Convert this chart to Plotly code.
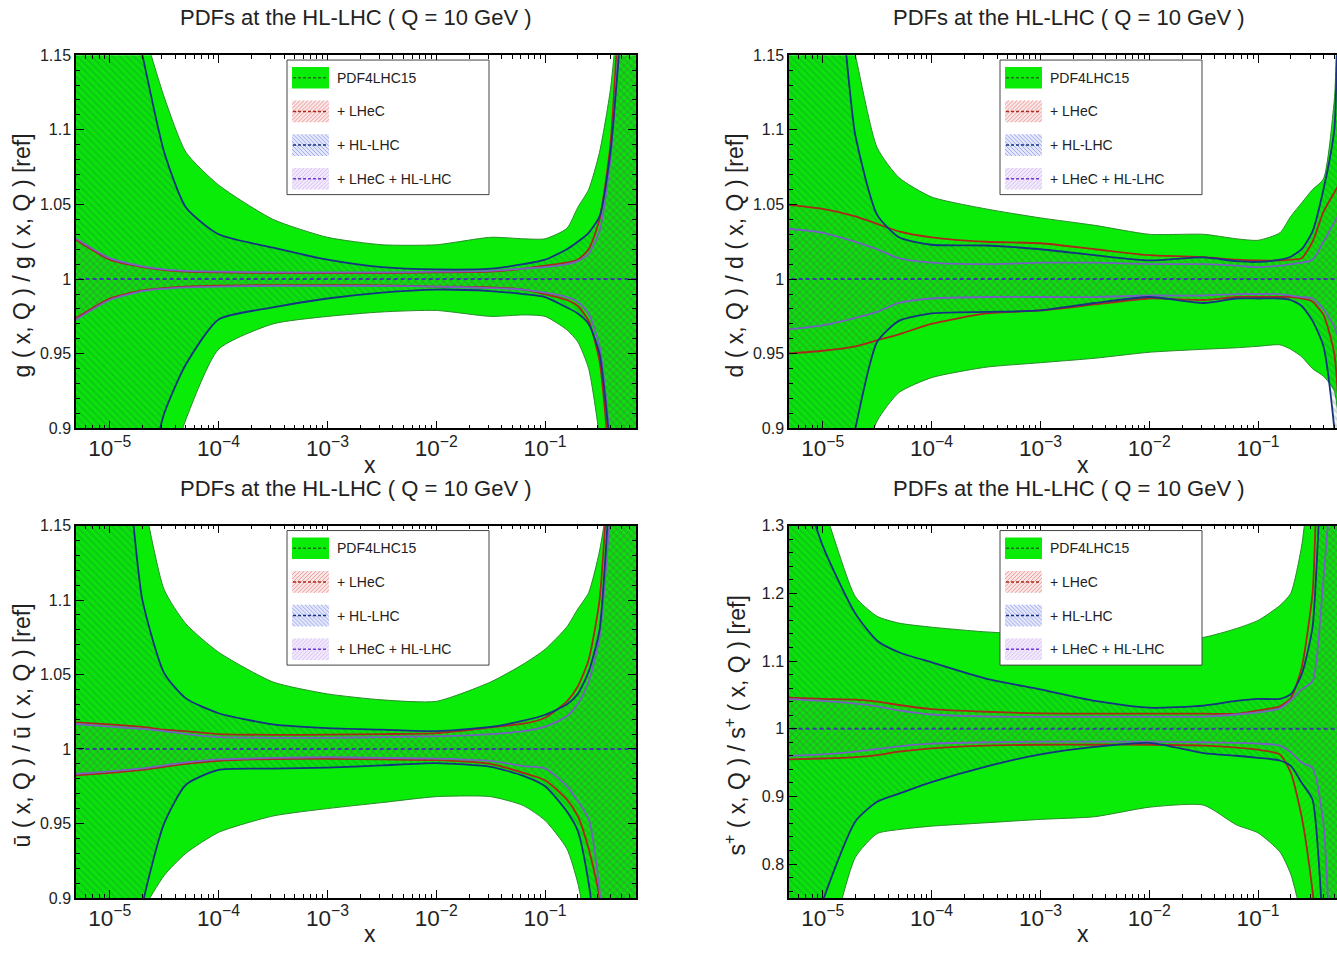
import plotly.graph_objects as go

W, H = 1337, 957
def fx(p):
    return p / W
def fy(p):
    return 1 - p / H

# ---------------- data (log10 x grid, ratio to reference) ----------------
LOG_X = [-5.35, -5.0, -4.7, -4.5, -4.3, -4.0, -3.5, -3.0, -2.5, -2.0, -1.5,
         -1.2, -1.0, -0.8, -0.7, -0.6, -0.5, -0.4, -0.3, -0.2, -0.1]

# gluon
g_pdf_up = [1.25, 1.25, 1.17, 1.122, 1.085, 1.063, 1.040, 1.028, 1.023, 1.023, 1.028, 1.027, 1.027, 1.034, 1.048, 1.060, 1.085, 1.127, 1.20, 1.25, 1.25]
g_pdf_dn = [0.75, 0.75, 0.80, 0.86, 0.906, 0.953, 0.970, 0.975, 0.978, 0.979, 0.975, 0.976, 0.975, 0.966, 0.958, 0.940, 0.894, 0.82, 0.75, 0.75, 0.75]
g_hl_up = [1.25, 1.25, 1.15, 1.085, 1.048, 1.030, 1.021, 1.013, 1.008, 1.0065, 1.007, 1.010, 1.013, 1.020, 1.025, 1.031, 1.042, 1.085, 1.17, 1.25, 1.25]
g_hl_dn = [0.75, 0.78, 0.85, 0.91, 0.943, 0.973, 0.981, 0.987, 0.991, 0.993, 0.992, 0.990, 0.988, 0.981, 0.977, 0.970, 0.950, 0.885, 0.80, 0.75, 0.75]
g_lh_up = [1.028, 1.013, 1.008, 1.006, 1.005, 1.0045, 1.004, 1.004, 1.004, 1.0045, 1.005, 1.007, 1.009, 1.011, 1.013, 1.020, 1.040, 1.09, 1.20, 1.25, 1.25]
g_lh_dn = [0.972, 0.987, 0.9925, 0.994, 0.995, 0.9956, 0.996, 0.996, 0.9958, 0.995, 0.9945, 0.993, 0.990, 0.986, 0.982, 0.972, 0.945, 0.87, 0.78, 0.75, 0.75]
g_co_up = [1.029, 1.014, 1.0085, 1.0065, 1.0055, 1.005, 1.0045, 1.0045, 1.0045, 1.005, 1.0055, 1.007, 1.008, 1.010, 1.012, 1.017, 1.032, 1.08, 1.18, 1.25, 1.25]
g_co_dn = [0.971, 0.986, 0.992, 0.9935, 0.9945, 0.995, 0.9955, 0.9955, 0.9955, 0.995, 0.994, 0.993, 0.991, 0.988, 0.985, 0.977, 0.955, 0.89, 0.80, 0.75, 0.75]

# d quark
d_pdf_up = [1.25, 1.25, 1.15, 1.088, 1.068, 1.055, 1.047, 1.041, 1.036, 1.030, 1.030, 1.027, 1.026, 1.031, 1.042, 1.051, 1.060, 1.067, 1.12, 1.25, 1.25]
d_pdf_dn = [0.75, 0.78, 0.86, 0.905, 0.924, 0.934, 0.941, 0.944, 0.947, 0.951, 0.953, 0.954, 0.955, 0.956, 0.953, 0.948, 0.940, 0.935, 0.925, 0.85, 0.80]
d_hl_up = [1.25, 1.25, 1.096, 1.043, 1.028, 1.023, 1.0225, 1.020, 1.016, 1.0125, 1.0145, 1.012, 1.0115, 1.013, 1.015, 1.020, 1.032, 1.060, 1.10, 1.25, 1.25]
d_hl_dn = [0.75, 0.78, 0.90, 0.958, 0.972, 0.977, 0.978, 0.979, 0.984, 0.988, 0.984, 0.987, 0.987, 0.987, 0.986, 0.982, 0.972, 0.955, 0.90, 0.80, 0.75]
d_lh_up = [1.050, 1.047, 1.042, 1.037, 1.032, 1.028, 1.025, 1.024, 1.020, 1.016, 1.0147, 1.013, 1.0125, 1.0125, 1.013, 1.014, 1.025, 1.045, 1.058, 1.07, 1.08]
d_lh_dn = [0.950, 0.952, 0.955, 0.959, 0.963, 0.970, 0.977, 0.979, 0.983, 0.987, 0.986, 0.988, 0.988, 0.988, 0.988, 0.987, 0.985, 0.976, 0.95, 0.85, 0.80]
d_co_up = [1.034, 1.031, 1.025, 1.020, 1.014, 1.011, 1.010, 1.011, 1.011, 1.010, 1.010, 1.009, 1.008, 1.009, 1.010, 1.011, 1.013, 1.025, 1.038, 1.05, 1.06]
d_co_dn = [0.966, 0.969, 0.974, 0.978, 0.984, 0.987, 0.988, 0.988, 0.988, 0.989, 0.989, 0.990, 0.990, 0.990, 0.989, 0.988, 0.987, 0.980, 0.968, 0.95, 0.94]

# u-bar
u_pdf_up = [1.25, 1.25, 1.17, 1.107, 1.084, 1.065, 1.045, 1.037, 1.033, 1.032, 1.045, 1.057, 1.067, 1.082, 1.094, 1.105, 1.133, 1.18, 1.25, 1.25, 1.25]
u_pdf_dn = [0.75, 0.80, 0.89, 0.915, 0.930, 0.944, 0.955, 0.960, 0.964, 0.968, 0.968, 0.962, 0.952, 0.933, 0.91, 0.87, 0.80, 0.75, 0.75, 0.75, 0.75]
u_hl_up = [1.25, 1.25, 1.10, 1.051, 1.034, 1.024, 1.0165, 1.014, 1.013, 1.012, 1.0148, 1.019, 1.023, 1.030, 1.037, 1.052, 1.08, 1.18, 1.25, 1.25, 1.25]
u_hl_dn = [0.75, 0.75, 0.895, 0.95, 0.976, 0.986, 0.9868, 0.9875, 0.989, 0.9905, 0.988, 0.982, 0.975, 0.958, 0.945, 0.91, 0.85, 0.78, 0.75, 0.75, 0.75]
u_lh_up = [1.018, 1.0165, 1.0148, 1.013, 1.012, 1.010, 1.0095, 1.0096, 1.010, 1.0107, 1.0145, 1.017, 1.021, 1.032, 1.042, 1.060, 1.10, 1.20, 1.25, 1.25, 1.25]
u_lh_dn = [0.982, 0.984, 0.986, 0.988, 0.990, 0.992, 0.9933, 0.9934, 0.993, 0.9925, 0.990, 0.984, 0.979, 0.966, 0.955, 0.933, 0.90, 0.80, 0.75, 0.75, 0.75]
u_co_up = [1.017, 1.015, 1.0135, 1.012, 1.010, 1.008, 1.0075, 1.0075, 1.008, 1.0085, 1.010, 1.012, 1.015, 1.022, 1.030, 1.045, 1.075, 1.16, 1.25, 1.25, 1.25]
u_co_dn = [0.983, 0.985, 0.987, 0.989, 0.991, 0.993, 0.994, 0.9945, 0.994, 0.9935, 0.992, 0.9885, 0.987, 0.975, 0.965, 0.953, 0.905, 0.80, 0.75, 0.75, 0.75]

# s+
s_pdf_up = [1.45, 1.33, 1.195, 1.166, 1.156, 1.150, 1.143, 1.139, 1.135, 1.131, 1.135, 1.148, 1.160, 1.182, 1.20, 1.27, 1.40, 1.45, 1.45, 1.45, 1.45]
s_pdf_dn = [0.55, 0.65, 0.81, 0.845, 0.851, 0.856, 0.861, 0.866, 0.870, 0.884, 0.887, 0.858, 0.846, 0.818, 0.785, 0.72, 0.60, 0.55, 0.55, 0.55, 0.55]
s_hl_up = [1.45, 1.27, 1.17, 1.13, 1.113, 1.098, 1.074, 1.058, 1.041, 1.031, 1.034, 1.041, 1.044, 1.044, 1.051, 1.080, 1.15, 1.40, 1.45, 1.45, 1.45]
s_hl_dn = [0.55, 0.745, 0.863, 0.892, 0.904, 0.921, 0.944, 0.962, 0.973, 0.979, 0.964, 0.960, 0.957, 0.953, 0.945, 0.920, 0.895, 0.70, 0.55, 0.55, 0.55]
s_lh_up = [1.046, 1.044, 1.043, 1.040, 1.035, 1.029, 1.025, 1.0225, 1.0222, 1.0222, 1.0222, 1.022, 1.027, 1.033, 1.045, 1.09, 1.20, 1.45, 1.45, 1.45, 1.45]
s_lh_dn = [0.9546, 0.956, 0.958, 0.961, 0.966, 0.971, 0.975, 0.9763, 0.9763, 0.9763, 0.975, 0.972, 0.969, 0.962, 0.935, 0.87, 0.76, 0.60, 0.55, 0.55, 0.55]
s_co_up = [1.044, 1.041, 1.037, 1.033, 1.027, 1.021, 1.018, 1.0174, 1.0174, 1.0174, 1.0176, 1.021, 1.024, 1.030, 1.042, 1.058, 1.07, 1.22, 1.40, 1.45, 1.45]
s_co_dn = [0.9594, 0.962, 0.966, 0.970, 0.974, 0.978, 0.980, 0.981, 0.981, 0.981, 0.980, 0.979, 0.978, 0.975, 0.965, 0.950, 0.942, 0.86, 0.60, 0.55, 0.55]

TITLE = "PDFs at the HL-LHC ( Q = 10 GeV )"
LEGEND_LABELS = ["PDF4LHC15", "+ LHeC", "+ HL-LHC", "+ LHeC + HL-LHC"]
Y_TITLES = ["g ( x, Q ) / g ( x, Q ) [ref]", "d ( x, Q ) / d ( x, Q ) [ref]",
            "ū ( x, Q ) / ū ( x, Q ) [ref]", "s<sup>+</sup> ( x, Q ) / s<sup>+</sup> ( x, Q ) [ref]"]

# ---------------- styling ----------------
FONT = "Liberation Sans, Arial, Helvetica, sans-serif"
GREEN = "rgb(8,236,8)"
GREEN_EDGE = "rgb(40,140,40)"
RED = "rgb(170,40,25)"
BLUE = "rgb(22,50,130)"
PURPLE = "rgb(120,95,195)"
CENTER = "rgb(65,55,175)"

HATCH = {
    "hl": dict(shape="\\", fgcolor="rgba(30,95,70,0.40)", bgcolor="rgba(40,100,40,0.06)", size=5, solidity=0.45),
    "lh": dict(shape="/", fgcolor="rgba(150,70,40,0.28)", bgcolor="rgba(0,0,0,0)", size=5, solidity=0.35),
    "co": dict(shape="/", fgcolor="rgba(110,70,170,0.26)", bgcolor="rgba(0,0,0,0)", size=5, solidity=0.35),
}

panels = [
    dict(ax="", pdf=(g_pdf_up, g_pdf_dn), hl=(g_hl_up, g_hl_dn), lh=(g_lh_up, g_lh_dn), co=(g_co_up, g_co_dn),
         xdom=(76, 636), ydom=(48, 428), yr=(0.9, 1.15), dt=0.05, mdt=0.01, t0=0.9, xr_end=-0.165),
    dict(ax="2", pdf=(d_pdf_up, d_pdf_dn), hl=(d_hl_up, d_hl_dn), lh=(d_lh_up, d_lh_dn), co=(d_co_up, d_co_dn),
         xdom=(789, 1337), ydom=(48, 428), yr=(0.9, 1.15), dt=0.05, mdt=0.01, t0=0.9, xr_end=None),
    dict(ax="3", pdf=(u_pdf_up, u_pdf_dn), hl=(u_hl_up, u_hl_dn), lh=(u_lh_up, u_lh_dn), co=(u_co_up, u_co_dn),
         xdom=(76, 636), ydom=(527, 906), yr=(0.9, 1.15), dt=0.05, mdt=0.01, t0=0.9, xr_end=-0.165),
    dict(ax="4", pdf=(s_pdf_up, s_pdf_dn), hl=(s_hl_up, s_hl_dn), lh=(s_lh_up, s_lh_dn), co=(s_co_up, s_co_dn),
         xdom=(789, 1337), ydom=(527, 906), yr=(0.75, 1.3), dt=0.1, mdt=0.02, t0=0.8, xr_end=None),
]

X_START = -5.31
PX_PER_DEC = (636 - 76) / (-0.165 - X_START)

xs = [10 ** v for v in LOG_X]
fig = go.Figure()

def band(up, dn, xa, ya, **kw):
    return go.Scatter(x=xs + xs[::-1], y=list(up) + list(dn)[::-1], fill="toself", mode="lines",
                      line=dict(width=0, shape="spline", smoothing=0.6), hoverinfo="skip",
                      showlegend=False, xaxis="x" + xa, yaxis="y" + ya, **kw)

def edge(vals, xa, ya, color, width):
    return go.Scatter(x=xs, y=vals, mode="lines", line=dict(color=color, width=width, shape="spline", smoothing=0.6),
                      hoverinfo="skip", showlegend=False, xaxis="x" + xa, yaxis="y" + ya)

for p in panels:
    a = p["ax"]
    fig.add_trace(band(*p["pdf"], a, a, fillcolor=GREEN))
    fig.add_trace(band(*p["hl"], a, a, fillcolor="rgba(0,0,0,0)", fillpattern=HATCH["hl"]))
    fig.add_trace(band(*p["lh"], a, a, fillcolor="rgba(0,0,0,0)", fillpattern=HATCH["lh"]))
    fig.add_trace(band(*p["co"], a, a, fillcolor="rgba(0,0,0,0)", fillpattern=HATCH["co"]))
    for v in p["pdf"]:
        fig.add_trace(edge(v, a, a, GREEN_EDGE, 1))
    for v in p["lh"]:
        fig.add_trace(edge(v, a, a, RED, 1.8))
    for v in p["co"]:
        fig.add_trace(edge(v, a, a, PURPLE, 1.8))
    for v in p["hl"]:
        fig.add_trace(edge(v, a, a, BLUE, 1.8))
    fig.add_trace(go.Scatter(x=[xs[0], xs[-1]], y=[1, 1], mode="lines",
                             line=dict(color=CENTER, width=2, dash="4px,3px"), hoverinfo="skip",
                             showlegend=False, xaxis="x" + a, yaxis="y" + a))

layout = dict(width=W, height=H, margin=dict(l=0, r=0, t=0, b=0), paper_bgcolor="white",
              plot_bgcolor="white", font=dict(family=FONT, color="#222"))

annotations = []
shapes = []
for p in panels:
    a = p["ax"]
    x0, x1 = p["xdom"]
    y0, y1 = p["ydom"]
    xr_end = p["xr_end"] if p["xr_end"] is not None else X_START + (x1 - x0) / PX_PER_DEC
    right_cut = p["xr_end"] is None
    layout["xaxis" + a] = dict(
        domain=[fx(x0), fx(x1)], anchor="y" + a, type="log", range=[X_START, xr_end], dtick=1,
        exponentformat="power", showexponent="all", ticks="inside", ticklen=8, tickwidth=1.2,
        tickcolor="black", showline=True, linecolor="black", linewidth=1.5, mirror="allticks",
        showgrid=False, zeroline=False, tickfont=dict(size=18, color="#222", family=FONT),
        minor=dict(ticks="inside", ticklen=4, tickwidth=1, tickcolor="black", dtick="D1", showgrid=False),
    )
    layout["yaxis" + a] = dict(
        domain=[fy(y1), fy(y0)], anchor="x" + a, range=list(p["yr"]), dtick=p["dt"], tick0=p["t0"],
        ticks="inside", ticklen=8, tickwidth=1.2, tickcolor="black", showline=True, linecolor="black",
        linewidth=1.5, mirror=(False if right_cut else "allticks"), showgrid=False, zeroline=False,
        tickfont=dict(size=16, color="#222", family=FONT),
        minor=dict(ticks="inside", ticklen=4, tickwidth=1, tickcolor="black", dtick=p["mdt"], showgrid=False),
    )
    # panel title
    full_x1 = x0 + (-0.165 - X_START) * PX_PER_DEC
    cx = (x0 + full_x1) / 2
    annotations.append(dict(text=TITLE, x=fx(cx), y=fy(y0 - 38), xref="paper", yref="paper",
                            showarrow=False, xanchor="center", yanchor="middle",
                            font=dict(size=22, color="#222", family=FONT)))
    annotations.append(dict(text="x", x=fx(cx + 14), y=fy(y1 + 37), xref="paper", yref="paper",
                            showarrow=False, xanchor="center", yanchor="middle",
                            font=dict(size=23, color="#222", family=FONT)))
    idx = ["", "2", "3", "4"].index(a)
    annotations.append(dict(text=Y_TITLES[idx], x=fx(x0 - 54), y=fy((y0 + y1) / 2 + 14), xref="paper", yref="paper",
                            showarrow=False, xanchor="center", yanchor="middle", textangle=-90,
                            font=dict(size=23, color="#222", family=FONT)))
    # legend box
    lx0 = x0 + 211
    ly0 = y0 + 5
    shapes.append(dict(type="rect", xref="paper", yref="paper", x0=fx(lx0), x1=fx(lx0 + 202),
                       y0=fy(ly0), y1=fy(ly0 + 137), line=dict(color="#444", width=1), fillcolor="white",
                       layer="above"))
    sw_fill = [GREEN, "rgba(245,200,200,0.45)", "rgba(200,205,245,0.45)", "rgba(230,215,250,0.55)"]
    sw_hatch = [None, "rgba(235,150,150,0.9)", "rgba(150,165,235,0.9)", "rgba(215,190,240,0.9)"]
    sw_dir = [0, 1, -1, 1]
    sw_line = ["rgb(30,110,30)", RED, BLUE, "rgb(110,60,210)"]
    for k in range(4):
        cy = ly0 + 18 + k * 34.3
        sx0, sx1 = lx0 + 5, lx0 + 42
        sy0, sy1 = cy - 11, cy + 11
        shapes.append(dict(type="rect", xref="paper", yref="paper", x0=fx(sx0), x1=fx(sx1), y0=fy(sy0), y1=fy(sy1),
                           line=dict(width=0), fillcolor=sw_fill[k], layer="above"))
        if sw_hatch[k]:
            segs = []
            hgt = sy1 - sy0
            off = -hgt
            while off < (sx1 - sx0):
                xa_, ya_ = sx0 + off, sy1
                xb_, yb_ = sx0 + off + hgt, sy0
                if xa_ < sx0:
                    ya_ -= (sx0 - xa_)
                    xa_ = sx0
                if xb_ > sx1:
                    yb_ += (xb_ - sx1)
                    xb_ = sx1
                if sw_dir[k] < 0:
                    xa_, xb_ = sx0 + sx1 - xa_, sx0 + sx1 - xb_
                segs.append(f"M{fx(xa_):.5f},{fy(ya_):.5f} L{fx(xb_):.5f},{fy(yb_):.5f}")
                off += 4
            shapes.append(dict(type="path", xref="paper", yref="paper", path=" ".join(segs),
                               line=dict(color=sw_hatch[k], width=1), layer="above"))
        shapes.append(dict(type="line", xref="paper", yref="paper", x0=fx(sx0 + 1), x1=fx(sx1 - 1),
                           y0=fy(cy), y1=fy(cy), line=dict(color=sw_line[k], width=1.5, dash="3px,2px"),
                           layer="above"))
        annotations.append(dict(text=LEGEND_LABELS[k], x=fx(sx1 + 6), y=fy(cy), xref="paper", yref="paper",
                                showarrow=False, xanchor="left", yanchor="middle",
                                font=dict(size=14, color="#222", family=FONT)))

layout["annotations"] = annotations
layout["shapes"] = shapes
fig.update_layout(**layout)
fig.write_html("out.html", config={"displayModeBar": False},
               post_script="document.body.style.margin='0px';document.body.style.overflow='hidden';")
